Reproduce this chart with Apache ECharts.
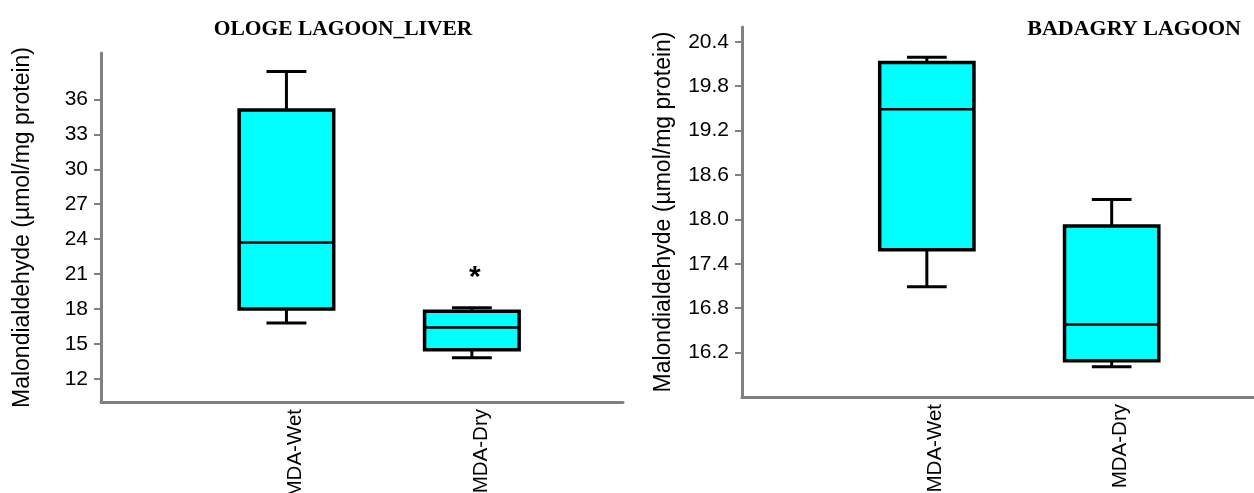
<!DOCTYPE html>
<html>
<head>
<meta charset="utf-8">
<script src="https://cdn.jsdelivr.net/npm/echarts@6/dist/echarts.min.js"></script>
<style>html,body{margin:0;padding:0;background:#fff}#c{width:1254px;height:493px}</style>
</head>
<body>
<div id="c"></div>
<script>
// ---- data ----
const categories = ['MDA-Wet', 'MDA-Dry'];
const categoryPositions = [1, 2];
// [lower whisker, Q1, median, Q3, upper whisker]
const ologeValues = [
  [16.8, 18.0, 23.7, 35.1, 38.4],
  [13.8, 14.5, 16.4, 17.8, 18.1]
];
const badagryValues = [
  [17.09, 17.59, 19.49, 20.12, 20.19],
  [16.01, 16.09, 16.58, 17.91, 18.27]
];
const ologeSignificance = ['', '*'];
const badagrySignificance = ['', ''];
const ologeTicks = [12, 15, 18, 21, 24, 27, 30, 33, 36];
const badagryTicks = [16.2, 16.8, 17.4, 18.0, 18.6, 19.2, 19.8, 20.4];
const titles = ['OLOGE LAGOON_LIVER', 'BADAGRY LAGOON'];
const yName = 'Malondialdehyde (µmol/mg protein)';

const SANS = '"Liberation Sans", Arial, sans-serif';
const SERIF = '"Liberation Serif", "Times New Roman", serif';

function buildData(values, sig) {
  return values.map((v, i) => [categoryPositions[i]].concat(v).concat([sig[i]]));
}

function renderBox(params, api) {
  const x = api.value(0);
  const lo = api.coord([x, api.value(1)]);
  const q1 = api.coord([x, api.value(2)]);
  const med = api.coord([x, api.value(3)]);
  const q3 = api.coord([x, api.value(4)]);
  const hi = api.coord([x, api.value(5)]);
  const sig = api.value(6);
  const bw = api.size([0.51, 0])[0];
  const cw = api.size([0.215, 0])[0];
  const cx = q1[0];
  const black = '#000';
  const children = [
    {type: 'line', shape: {x1: cx, y1: hi[1], x2: cx, y2: q3[1]}, style: {stroke: black, lineWidth: 3}},
    {type: 'line', shape: {x1: cx, y1: q1[1], x2: cx, y2: lo[1]}, style: {stroke: black, lineWidth: 3}},
    {type: 'line', shape: {x1: cx - cw / 2, y1: hi[1], x2: cx + cw / 2, y2: hi[1]}, style: {stroke: black, lineWidth: 3}},
    {type: 'line', shape: {x1: cx - cw / 2, y1: lo[1], x2: cx + cw / 2, y2: lo[1]}, style: {stroke: black, lineWidth: 3}},
    {type: 'rect', shape: {x: cx - bw / 2, y: q3[1], width: bw, height: q1[1] - q3[1]}, style: {fill: '#00ffff', stroke: black, lineWidth: 3.5}},
    {type: 'line', shape: {x1: cx - bw / 2, y1: med[1], x2: cx + bw / 2, y2: med[1]}, style: {stroke: black, lineWidth: 2.5}}
  ];
  if (sig && sig !== '') {
    children.push({type: 'text', style: {text: sig, x: cx + 3, y: hi[1] - 15, align: 'center', verticalAlign: 'bottom', font: 'bold 30px ' + SANS, fill: '#000'}});
  }
  return {type: 'group', children};
}

const axisGray = '#808080';
function xAxisCfg(gridIndex, max) {
  return {
    type: 'value', gridIndex, min: 0, max,
    splitLine: {show: false},
    axisLine: {show: true, lineStyle: {color: axisGray, width: 3}},
    axisTick: {show: false},
    axisLabel: {
      show: true, rotate: 90, margin: 7, fontSize: 20.5, fontFamily: SANS, color: '#000',
      lineHeight: 18,
      customValues: categoryPositions,
      formatter: v => ' \n' + (categories[categoryPositions.indexOf(v)] || '')
    }
  };
}
function yAxisCfg(gridIndex, min, max, ticks, decimals, nameGap) {
  return {
    type: 'value', gridIndex, min, max,
    name: yName, nameLocation: 'middle', nameRotate: 90, nameGap,
    nameTextStyle: {fontSize: 23, fontFamily: SANS, color: '#000'},
    splitLine: {show: false},
    axisLine: {show: true, lineStyle: {color: axisGray, width: 3}},
    axisTick: {show: true, length: 7, customValues: ticks, lineStyle: {color: axisGray, width: 2}},
    axisLabel: {
      show: true, margin: 13, fontSize: 21, fontFamily: SANS, color: '#000',
      customValues: ticks,
      formatter: v => Number(v).toFixed(decimals)
    }
  };
}

const chart = echarts.init(document.getElementById('c'), null, {renderer: 'canvas'});
chart.setOption({
  backgroundColor: '#fff',
  animation: false,
  title: [
    {text: titles[0], left: 338, top: 13, textAlign: 'center',
     textStyle: {fontFamily: SERIF, fontWeight: 'bold', fontSize: 21.5, color: '#000'}},
    {text: titles[1], right: 8, top: 13,
     textStyle: {fontFamily: SERIF, fontWeight: 'bold', fontSize: 22, color: '#000'}}
  ],
  grid: [
    {left: 101, top: 53, width: 522, height: 349, outerBoundsMode: 'none', containLabel: false},
    {left: 742, top: 27, width: 512, height: 370, outerBoundsMode: 'none', containLabel: false}
  ],
  xAxis: [xAxisCfg(0, 2.815), xAxisCfg(1, 2.77)],
  yAxis: [
    yAxisCfg(0, 10, 40, ologeTicks, 0, 67),
    yAxisCfg(1, 15.6, 20.6, badagryTicks, 1, 67)
  ],
  series: [
    {type: 'custom', xAxisIndex: 0, yAxisIndex: 0, renderItem: renderBox,
     encode: {x: 0, y: [1, 2, 3, 4, 5]}, data: buildData(ologeValues, ologeSignificance)},
    {type: 'custom', xAxisIndex: 1, yAxisIndex: 1, renderItem: renderBox,
     encode: {x: 0, y: [1, 2, 3, 4, 5]}, data: buildData(badagryValues, badagrySignificance)}
  ]
});
</script>
</body>
</html>
